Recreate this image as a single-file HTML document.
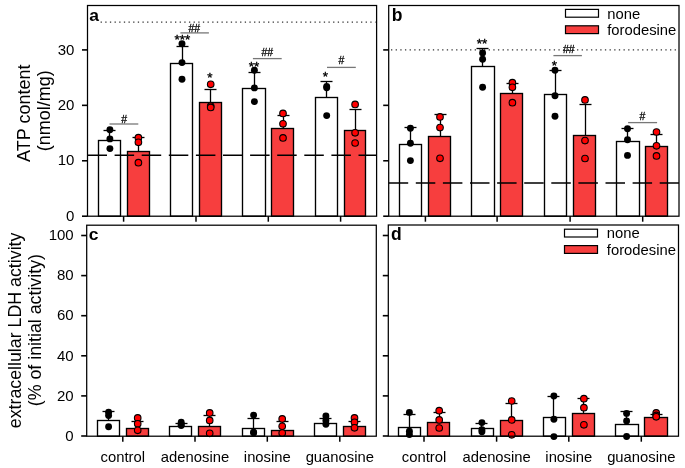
<!DOCTYPE html><html><head><meta charset="utf-8"><style>html,body{margin:0;padding:0;background:#fff;}svg{display:block;} svg{will-change:transform}</style></head><body>
<svg width="685" height="468" viewBox="0 0 685 468" font-family='"Liberation Sans", sans-serif'>
<rect width="685" height="468" fill="#fff"/>
<rect x="98.5" y="140.5" width="22.00" height="75.70" fill="#fff" stroke="#000" stroke-width="1.35"/>
<rect x="127.5" y="151.5" width="22.00" height="64.70" fill="#f73e3e" stroke="#000" stroke-width="1.35"/>
<rect x="170.5" y="63.5" width="22.00" height="152.70" fill="#fff" stroke="#000" stroke-width="1.35"/>
<rect x="199.5" y="102.5" width="22.00" height="113.70" fill="#f73e3e" stroke="#000" stroke-width="1.35"/>
<rect x="242.5" y="88.5" width="23.00" height="127.70" fill="#fff" stroke="#000" stroke-width="1.35"/>
<rect x="271.5" y="128.5" width="22.00" height="87.70" fill="#f73e3e" stroke="#000" stroke-width="1.35"/>
<rect x="315.5" y="97.5" width="22.00" height="118.70" fill="#fff" stroke="#000" stroke-width="1.35"/>
<rect x="344.5" y="130.5" width="21.00" height="85.70" fill="#f73e3e" stroke="#000" stroke-width="1.35"/>
<line x1="87.5" y1="155.3" x2="376.6" y2="155.3" stroke="#000" stroke-width="1.5" stroke-dasharray="19.5 7.6"/>
<line x1="100.6" y1="22.1" x2="375.6" y2="22.1" stroke="#333" stroke-width="1.3" stroke-dasharray="1.3 3.35"/>
<line x1="109.5" y1="140.5" x2="109.5" y2="130.5" stroke="#000" stroke-width="1.3"/>
<line x1="103.50" y1="130.5" x2="115.50" y2="130.5" stroke="#000" stroke-width="1.3"/>
<circle cx="109.9" cy="129.7" r="3.45" fill="#000"/>
<circle cx="109.9" cy="138.9" r="3.45" fill="#000"/>
<circle cx="109.9" cy="148.6" r="3.45" fill="#000"/>
<line x1="138.5" y1="151.5" x2="138.5" y2="137.5" stroke="#000" stroke-width="1.3"/>
<line x1="132.50" y1="137.5" x2="144.50" y2="137.5" stroke="#000" stroke-width="1.3"/>
<circle cx="138.4" cy="137.7" r="3.30" fill="#ff0000" stroke="#000" stroke-width="1.1"/>
<circle cx="138.4" cy="142.3" r="3.30" fill="#ff0000" stroke="#000" stroke-width="1.1"/>
<circle cx="138.4" cy="162.7" r="3.30" fill="#ff0000" stroke="#000" stroke-width="1.1"/>
<line x1="182.5" y1="63.5" x2="182.5" y2="46.5" stroke="#000" stroke-width="1.3"/>
<line x1="176.50" y1="46.5" x2="188.50" y2="46.5" stroke="#000" stroke-width="1.3"/>
<circle cx="182.0" cy="43.8" r="3.45" fill="#000"/>
<circle cx="182.0" cy="62.6" r="3.45" fill="#000"/>
<circle cx="182.0" cy="79.2" r="3.45" fill="#000"/>
<line x1="210.5" y1="102.5" x2="210.5" y2="89.5" stroke="#000" stroke-width="1.3"/>
<line x1="204.50" y1="89.5" x2="216.50" y2="89.5" stroke="#000" stroke-width="1.3"/>
<circle cx="210.7" cy="84.3" r="3.30" fill="#ff0000" stroke="#000" stroke-width="1.1"/>
<circle cx="210.7" cy="106.0" r="3.30" fill="#ff0000" stroke="#000" stroke-width="1.1"/>
<circle cx="210.7" cy="107.4" r="3.30" fill="#ff0000" stroke="#000" stroke-width="1.1"/>
<line x1="254.5" y1="88.5" x2="254.5" y2="72.5" stroke="#000" stroke-width="1.3"/>
<line x1="248.50" y1="72.5" x2="260.50" y2="72.5" stroke="#000" stroke-width="1.3"/>
<circle cx="254.4" cy="70.3" r="3.45" fill="#000"/>
<circle cx="254.4" cy="87.9" r="3.45" fill="#000"/>
<circle cx="254.4" cy="101.6" r="3.45" fill="#000"/>
<line x1="283.5" y1="128.5" x2="283.5" y2="115.5" stroke="#000" stroke-width="1.3"/>
<line x1="277.50" y1="115.5" x2="289.50" y2="115.5" stroke="#000" stroke-width="1.3"/>
<circle cx="283.0" cy="113.4" r="3.30" fill="#ff0000" stroke="#000" stroke-width="1.1"/>
<circle cx="283.0" cy="123.8" r="3.30" fill="#ff0000" stroke="#000" stroke-width="1.1"/>
<circle cx="283.0" cy="137.9" r="3.30" fill="#ff0000" stroke="#000" stroke-width="1.1"/>
<line x1="326.5" y1="97.5" x2="326.5" y2="81.5" stroke="#000" stroke-width="1.3"/>
<line x1="320.50" y1="81.5" x2="332.50" y2="81.5" stroke="#000" stroke-width="1.3"/>
<circle cx="326.7" cy="86.5" r="3.45" fill="#000"/>
<circle cx="326.7" cy="87.7" r="3.45" fill="#000"/>
<circle cx="326.7" cy="115.6" r="3.45" fill="#000"/>
<line x1="355.5" y1="130.5" x2="355.5" y2="109.5" stroke="#000" stroke-width="1.3"/>
<line x1="349.50" y1="109.5" x2="361.50" y2="109.5" stroke="#000" stroke-width="1.3"/>
<circle cx="355.1" cy="104.4" r="3.30" fill="#ff0000" stroke="#000" stroke-width="1.1"/>
<circle cx="355.1" cy="132.8" r="3.30" fill="#ff0000" stroke="#000" stroke-width="1.1"/>
<circle cx="355.1" cy="143.0" r="3.30" fill="#ff0000" stroke="#000" stroke-width="1.1"/>
<rect x="87.5" y="5.5" width="289.10" height="210.70" fill="none" stroke="#000" stroke-width="1.25"/>
<line x1="82.00" y1="216.20" x2="87.5" y2="216.20" stroke="#000" stroke-width="1.6"/>
<line x1="82.00" y1="160.77" x2="87.5" y2="160.77" stroke="#000" stroke-width="1.6"/>
<line x1="82.00" y1="105.34" x2="87.5" y2="105.34" stroke="#000" stroke-width="1.6"/>
<line x1="82.00" y1="49.91" x2="87.5" y2="49.91" stroke="#000" stroke-width="1.6"/>
<line x1="123.60" y1="216.2" x2="123.60" y2="221.70" stroke="#000" stroke-width="1.5"/>
<line x1="196.00" y1="216.2" x2="196.00" y2="221.70" stroke="#000" stroke-width="1.5"/>
<line x1="268.30" y1="216.2" x2="268.30" y2="221.70" stroke="#000" stroke-width="1.5"/>
<line x1="340.60" y1="216.2" x2="340.60" y2="221.70" stroke="#000" stroke-width="1.5"/>
<rect x="399.5" y="144.5" width="22.00" height="71.70" fill="#fff" stroke="#000" stroke-width="1.35"/>
<rect x="428.5" y="136.5" width="22.00" height="79.70" fill="#f73e3e" stroke="#000" stroke-width="1.35"/>
<rect x="471.5" y="66.5" width="23.00" height="149.70" fill="#fff" stroke="#000" stroke-width="1.35"/>
<rect x="500.5" y="93.5" width="22.00" height="122.70" fill="#f73e3e" stroke="#000" stroke-width="1.35"/>
<rect x="544.5" y="94.5" width="22.00" height="121.70" fill="#fff" stroke="#000" stroke-width="1.35"/>
<rect x="573.5" y="135.5" width="22.00" height="80.70" fill="#f73e3e" stroke="#000" stroke-width="1.35"/>
<rect x="616.5" y="141.5" width="23.00" height="74.70" fill="#fff" stroke="#000" stroke-width="1.35"/>
<rect x="645.5" y="146.5" width="22.00" height="69.70" fill="#f73e3e" stroke="#000" stroke-width="1.35"/>
<line x1="388.7" y1="183.0" x2="679.0" y2="183.0" stroke="#000" stroke-width="1.5" stroke-dasharray="19.5 7.6"/>
<line x1="391.0" y1="49.9" x2="678.0" y2="49.9" stroke="#333" stroke-width="1.3" stroke-dasharray="1.3 3.35"/>
<line x1="410.5" y1="144.5" x2="410.5" y2="127.5" stroke="#000" stroke-width="1.3"/>
<line x1="404.50" y1="127.5" x2="416.50" y2="127.5" stroke="#000" stroke-width="1.3"/>
<circle cx="410.4" cy="128.3" r="3.45" fill="#000"/>
<circle cx="410.4" cy="143.2" r="3.45" fill="#000"/>
<circle cx="410.4" cy="160.6" r="3.45" fill="#000"/>
<line x1="440.5" y1="136.5" x2="440.5" y2="114.5" stroke="#000" stroke-width="1.3"/>
<line x1="434.50" y1="114.5" x2="446.50" y2="114.5" stroke="#000" stroke-width="1.3"/>
<circle cx="440.0" cy="116.9" r="3.30" fill="#ff0000" stroke="#000" stroke-width="1.1"/>
<circle cx="440.0" cy="127.6" r="3.30" fill="#ff0000" stroke="#000" stroke-width="1.1"/>
<circle cx="440.0" cy="158.3" r="3.30" fill="#ff0000" stroke="#000" stroke-width="1.1"/>
<line x1="482.5" y1="66.5" x2="482.5" y2="48.5" stroke="#000" stroke-width="1.3"/>
<line x1="476.50" y1="48.5" x2="488.50" y2="48.5" stroke="#000" stroke-width="1.3"/>
<circle cx="482.6" cy="52.9" r="3.45" fill="#000"/>
<circle cx="482.6" cy="59.3" r="3.45" fill="#000"/>
<circle cx="482.6" cy="87.3" r="3.45" fill="#000"/>
<line x1="512.5" y1="93.5" x2="512.5" y2="83.5" stroke="#000" stroke-width="1.3"/>
<line x1="506.50" y1="83.5" x2="518.50" y2="83.5" stroke="#000" stroke-width="1.3"/>
<circle cx="512.4" cy="82.7" r="3.30" fill="#ff0000" stroke="#000" stroke-width="1.1"/>
<circle cx="512.4" cy="87.3" r="3.30" fill="#ff0000" stroke="#000" stroke-width="1.1"/>
<circle cx="512.4" cy="102.7" r="3.30" fill="#ff0000" stroke="#000" stroke-width="1.1"/>
<line x1="555.5" y1="94.5" x2="555.5" y2="70.5" stroke="#000" stroke-width="1.3"/>
<line x1="549.50" y1="70.5" x2="561.50" y2="70.5" stroke="#000" stroke-width="1.3"/>
<circle cx="555.0" cy="70.3" r="3.45" fill="#000"/>
<circle cx="555.0" cy="95.7" r="3.45" fill="#000"/>
<circle cx="555.0" cy="116.2" r="3.45" fill="#000"/>
<line x1="585.5" y1="135.5" x2="585.5" y2="104.5" stroke="#000" stroke-width="1.3"/>
<line x1="579.50" y1="104.5" x2="591.50" y2="104.5" stroke="#000" stroke-width="1.3"/>
<circle cx="585.0" cy="99.9" r="3.30" fill="#ff0000" stroke="#000" stroke-width="1.1"/>
<circle cx="585.0" cy="140.6" r="3.30" fill="#ff0000" stroke="#000" stroke-width="1.1"/>
<circle cx="585.0" cy="158.5" r="3.30" fill="#ff0000" stroke="#000" stroke-width="1.1"/>
<line x1="627.5" y1="141.5" x2="627.5" y2="128.5" stroke="#000" stroke-width="1.3"/>
<line x1="621.50" y1="128.5" x2="633.50" y2="128.5" stroke="#000" stroke-width="1.3"/>
<circle cx="627.5" cy="128.8" r="3.45" fill="#000"/>
<circle cx="627.5" cy="139.8" r="3.45" fill="#000"/>
<circle cx="627.5" cy="155.4" r="3.45" fill="#000"/>
<line x1="656.5" y1="146.5" x2="656.5" y2="134.5" stroke="#000" stroke-width="1.3"/>
<line x1="650.50" y1="134.5" x2="662.50" y2="134.5" stroke="#000" stroke-width="1.3"/>
<circle cx="656.5" cy="132.0" r="3.30" fill="#ff0000" stroke="#000" stroke-width="1.1"/>
<circle cx="656.5" cy="145.8" r="3.30" fill="#ff0000" stroke="#000" stroke-width="1.1"/>
<circle cx="656.5" cy="155.9" r="3.30" fill="#ff0000" stroke="#000" stroke-width="1.1"/>
<rect x="388.7" y="5.5" width="290.30" height="210.70" fill="none" stroke="#000" stroke-width="1.25"/>
<line x1="383.20" y1="216.20" x2="388.7" y2="216.20" stroke="#000" stroke-width="1.6"/>
<line x1="383.20" y1="160.77" x2="388.7" y2="160.77" stroke="#000" stroke-width="1.6"/>
<line x1="383.20" y1="105.34" x2="388.7" y2="105.34" stroke="#000" stroke-width="1.6"/>
<line x1="383.20" y1="49.91" x2="388.7" y2="49.91" stroke="#000" stroke-width="1.6"/>
<line x1="425.40" y1="216.2" x2="425.40" y2="221.70" stroke="#000" stroke-width="1.5"/>
<line x1="497.10" y1="216.2" x2="497.10" y2="221.70" stroke="#000" stroke-width="1.5"/>
<line x1="570.10" y1="216.2" x2="570.10" y2="221.70" stroke="#000" stroke-width="1.5"/>
<line x1="642.70" y1="216.2" x2="642.70" y2="221.70" stroke="#000" stroke-width="1.5"/>
<rect x="97.5" y="420.5" width="22.00" height="15.70" fill="#fff" stroke="#000" stroke-width="1.35"/>
<rect x="126.5" y="428.5" width="22.00" height="7.70" fill="#f73e3e" stroke="#000" stroke-width="1.35"/>
<rect x="169.5" y="426.5" width="22.00" height="9.70" fill="#fff" stroke="#000" stroke-width="1.35"/>
<rect x="198.5" y="426.5" width="22.00" height="9.70" fill="#f73e3e" stroke="#000" stroke-width="1.35"/>
<rect x="242.5" y="428.5" width="22.00" height="7.70" fill="#fff" stroke="#000" stroke-width="1.35"/>
<rect x="271.5" y="430.5" width="22.00" height="5.70" fill="#f73e3e" stroke="#000" stroke-width="1.35"/>
<rect x="314.5" y="423.5" width="22.00" height="12.70" fill="#fff" stroke="#000" stroke-width="1.35"/>
<rect x="343.5" y="426.5" width="22.00" height="9.70" fill="#f73e3e" stroke="#000" stroke-width="1.35"/>
<line x1="108.5" y1="420.5" x2="108.5" y2="411.5" stroke="#000" stroke-width="1.3"/>
<line x1="102.50" y1="411.5" x2="114.50" y2="411.5" stroke="#000" stroke-width="1.3"/>
<circle cx="108.6" cy="412.2" r="3.45" fill="#000"/>
<circle cx="108.6" cy="415.5" r="3.45" fill="#000"/>
<circle cx="108.6" cy="426.8" r="3.45" fill="#000"/>
<line x1="137.5" y1="428.5" x2="137.5" y2="421.5" stroke="#000" stroke-width="1.3"/>
<line x1="131.50" y1="421.5" x2="143.50" y2="421.5" stroke="#000" stroke-width="1.3"/>
<circle cx="137.7" cy="417.9" r="3.30" fill="#ff0000" stroke="#000" stroke-width="1.1"/>
<circle cx="137.7" cy="423.8" r="3.30" fill="#ff0000" stroke="#000" stroke-width="1.1"/>
<circle cx="137.7" cy="430.3" r="3.30" fill="#ff0000" stroke="#000" stroke-width="1.1"/>
<line x1="181.5" y1="426.5" x2="181.5" y2="423.5" stroke="#000" stroke-width="1.3"/>
<line x1="175.50" y1="423.5" x2="187.50" y2="423.5" stroke="#000" stroke-width="1.3"/>
<circle cx="181.2" cy="422.2" r="3.45" fill="#000"/>
<circle cx="181.2" cy="424.5" r="3.45" fill="#000"/>
<circle cx="181.2" cy="425.6" r="3.45" fill="#000"/>
<line x1="209.5" y1="426.5" x2="209.5" y2="415.5" stroke="#000" stroke-width="1.3"/>
<line x1="203.50" y1="415.5" x2="215.50" y2="415.5" stroke="#000" stroke-width="1.3"/>
<circle cx="209.7" cy="412.9" r="3.30" fill="#ff0000" stroke="#000" stroke-width="1.1"/>
<circle cx="209.7" cy="420.4" r="3.30" fill="#ff0000" stroke="#000" stroke-width="1.1"/>
<circle cx="209.7" cy="433.3" r="3.30" fill="#ff0000" stroke="#000" stroke-width="1.1"/>
<line x1="253.5" y1="428.5" x2="253.5" y2="418.5" stroke="#000" stroke-width="1.3"/>
<line x1="247.50" y1="418.5" x2="259.50" y2="418.5" stroke="#000" stroke-width="1.3"/>
<circle cx="253.6" cy="415.1" r="3.45" fill="#000"/>
<circle cx="253.6" cy="432.3" r="3.45" fill="#000"/>
<circle cx="253.6" cy="432.8" r="3.45" fill="#000"/>
<line x1="282.5" y1="430.5" x2="282.5" y2="421.5" stroke="#000" stroke-width="1.3"/>
<line x1="276.50" y1="421.5" x2="288.50" y2="421.5" stroke="#000" stroke-width="1.3"/>
<circle cx="282.2" cy="418.9" r="3.30" fill="#ff0000" stroke="#000" stroke-width="1.1"/>
<circle cx="282.2" cy="426.3" r="3.30" fill="#ff0000" stroke="#000" stroke-width="1.1"/>
<circle cx="282.2" cy="433.0" r="3.30" fill="#ff0000" stroke="#000" stroke-width="1.1"/>
<line x1="325.5" y1="423.5" x2="325.5" y2="418.5" stroke="#000" stroke-width="1.3"/>
<line x1="319.50" y1="418.5" x2="331.50" y2="418.5" stroke="#000" stroke-width="1.3"/>
<circle cx="325.9" cy="415.9" r="3.45" fill="#000"/>
<circle cx="325.9" cy="420.4" r="3.45" fill="#000"/>
<circle cx="325.9" cy="424.3" r="3.45" fill="#000"/>
<line x1="354.5" y1="426.5" x2="354.5" y2="421.5" stroke="#000" stroke-width="1.3"/>
<line x1="348.50" y1="421.5" x2="360.50" y2="421.5" stroke="#000" stroke-width="1.3"/>
<circle cx="354.5" cy="417.9" r="3.30" fill="#ff0000" stroke="#000" stroke-width="1.1"/>
<circle cx="354.5" cy="422.3" r="3.30" fill="#ff0000" stroke="#000" stroke-width="1.1"/>
<circle cx="354.5" cy="427.8" r="3.30" fill="#ff0000" stroke="#000" stroke-width="1.1"/>
<rect x="86.7" y="225.2" width="289.60" height="211.00" fill="none" stroke="#000" stroke-width="1.25"/>
<line x1="81.20" y1="436.00" x2="86.7" y2="436.00" stroke="#000" stroke-width="1.6"/>
<line x1="81.20" y1="395.90" x2="86.7" y2="395.90" stroke="#000" stroke-width="1.6"/>
<line x1="81.20" y1="355.80" x2="86.7" y2="355.80" stroke="#000" stroke-width="1.6"/>
<line x1="81.20" y1="315.70" x2="86.7" y2="315.70" stroke="#000" stroke-width="1.6"/>
<line x1="81.20" y1="275.60" x2="86.7" y2="275.60" stroke="#000" stroke-width="1.6"/>
<line x1="81.20" y1="235.50" x2="86.7" y2="235.50" stroke="#000" stroke-width="1.6"/>
<line x1="122.80" y1="436.2" x2="122.80" y2="441.70" stroke="#000" stroke-width="1.5"/>
<line x1="195.00" y1="436.2" x2="195.00" y2="441.70" stroke="#000" stroke-width="1.5"/>
<line x1="267.30" y1="436.2" x2="267.30" y2="441.70" stroke="#000" stroke-width="1.5"/>
<line x1="339.80" y1="436.2" x2="339.80" y2="441.70" stroke="#000" stroke-width="1.5"/>
<rect x="398.5" y="427.5" width="22.00" height="8.70" fill="#fff" stroke="#000" stroke-width="1.35"/>
<rect x="427.5" y="422.5" width="22.00" height="13.70" fill="#f73e3e" stroke="#000" stroke-width="1.35"/>
<rect x="471.5" y="428.5" width="22.00" height="7.70" fill="#fff" stroke="#000" stroke-width="1.35"/>
<rect x="500.5" y="420.5" width="22.00" height="15.70" fill="#f73e3e" stroke="#000" stroke-width="1.35"/>
<rect x="543.5" y="417.5" width="22.00" height="18.70" fill="#fff" stroke="#000" stroke-width="1.35"/>
<rect x="572.5" y="413.5" width="22.00" height="22.70" fill="#f73e3e" stroke="#000" stroke-width="1.35"/>
<rect x="615.5" y="424.5" width="23.00" height="11.70" fill="#fff" stroke="#000" stroke-width="1.35"/>
<rect x="644.5" y="417.5" width="23.00" height="18.70" fill="#f73e3e" stroke="#000" stroke-width="1.35"/>
<line x1="409.5" y1="427.5" x2="409.5" y2="414.5" stroke="#000" stroke-width="1.3"/>
<line x1="403.50" y1="414.5" x2="415.50" y2="414.5" stroke="#000" stroke-width="1.3"/>
<circle cx="409.4" cy="412.4" r="3.45" fill="#000"/>
<circle cx="409.4" cy="431.3" r="3.45" fill="#000"/>
<circle cx="409.4" cy="434.5" r="3.45" fill="#000"/>
<line x1="439.5" y1="422.5" x2="439.5" y2="412.5" stroke="#000" stroke-width="1.3"/>
<line x1="433.50" y1="412.5" x2="445.50" y2="412.5" stroke="#000" stroke-width="1.3"/>
<circle cx="439.2" cy="410.7" r="3.30" fill="#ff0000" stroke="#000" stroke-width="1.1"/>
<circle cx="439.2" cy="419.9" r="3.30" fill="#ff0000" stroke="#000" stroke-width="1.1"/>
<circle cx="439.2" cy="428.0" r="3.30" fill="#ff0000" stroke="#000" stroke-width="1.1"/>
<line x1="481.5" y1="428.5" x2="481.5" y2="423.5" stroke="#000" stroke-width="1.3"/>
<line x1="475.50" y1="423.5" x2="487.50" y2="423.5" stroke="#000" stroke-width="1.3"/>
<circle cx="481.9" cy="422.6" r="3.45" fill="#000"/>
<circle cx="481.9" cy="429.8" r="3.45" fill="#000"/>
<circle cx="481.9" cy="431.8" r="3.45" fill="#000"/>
<line x1="511.5" y1="420.5" x2="511.5" y2="403.5" stroke="#000" stroke-width="1.3"/>
<line x1="505.50" y1="403.5" x2="517.50" y2="403.5" stroke="#000" stroke-width="1.3"/>
<circle cx="511.7" cy="401.0" r="3.30" fill="#ff0000" stroke="#000" stroke-width="1.1"/>
<circle cx="511.7" cy="419.9" r="3.30" fill="#ff0000" stroke="#000" stroke-width="1.1"/>
<circle cx="511.7" cy="434.8" r="3.30" fill="#ff0000" stroke="#000" stroke-width="1.1"/>
<line x1="553.5" y1="417.5" x2="553.5" y2="396.5" stroke="#000" stroke-width="1.3"/>
<line x1="547.50" y1="396.5" x2="559.50" y2="396.5" stroke="#000" stroke-width="1.3"/>
<circle cx="553.9" cy="396.0" r="3.45" fill="#000"/>
<circle cx="553.9" cy="419.3" r="3.45" fill="#000"/>
<circle cx="553.9" cy="436.6" r="3.45" fill="#000"/>
<line x1="583.5" y1="413.5" x2="583.5" y2="398.5" stroke="#000" stroke-width="1.3"/>
<line x1="577.50" y1="398.5" x2="589.50" y2="398.5" stroke="#000" stroke-width="1.3"/>
<circle cx="583.9" cy="398.7" r="3.30" fill="#ff0000" stroke="#000" stroke-width="1.1"/>
<circle cx="583.9" cy="407.7" r="3.30" fill="#ff0000" stroke="#000" stroke-width="1.1"/>
<circle cx="583.9" cy="424.8" r="3.30" fill="#ff0000" stroke="#000" stroke-width="1.1"/>
<line x1="626.5" y1="424.5" x2="626.5" y2="411.5" stroke="#000" stroke-width="1.3"/>
<line x1="620.50" y1="411.5" x2="632.50" y2="411.5" stroke="#000" stroke-width="1.3"/>
<circle cx="626.6" cy="413.4" r="3.45" fill="#000"/>
<circle cx="626.6" cy="420.9" r="3.45" fill="#000"/>
<circle cx="626.6" cy="436.5" r="3.45" fill="#000"/>
<line x1="656.5" y1="417.5" x2="656.5" y2="414.5" stroke="#000" stroke-width="1.3"/>
<line x1="650.50" y1="414.5" x2="662.50" y2="414.5" stroke="#000" stroke-width="1.3"/>
<circle cx="656.2" cy="412.9" r="3.30" fill="#ff0000" stroke="#000" stroke-width="1.1"/>
<circle cx="656.2" cy="415.4" r="3.30" fill="#ff0000" stroke="#000" stroke-width="1.1"/>
<circle cx="656.2" cy="416.8" r="3.30" fill="#ff0000" stroke="#000" stroke-width="1.1"/>
<rect x="388.3" y="225.0" width="290.20" height="211.20" fill="none" stroke="#000" stroke-width="1.25"/>
<line x1="382.80" y1="436.00" x2="388.3" y2="436.00" stroke="#000" stroke-width="1.6"/>
<line x1="382.80" y1="395.90" x2="388.3" y2="395.90" stroke="#000" stroke-width="1.6"/>
<line x1="382.80" y1="355.80" x2="388.3" y2="355.80" stroke="#000" stroke-width="1.6"/>
<line x1="382.80" y1="315.70" x2="388.3" y2="315.70" stroke="#000" stroke-width="1.6"/>
<line x1="382.80" y1="275.60" x2="388.3" y2="275.60" stroke="#000" stroke-width="1.6"/>
<line x1="382.80" y1="235.50" x2="388.3" y2="235.50" stroke="#000" stroke-width="1.6"/>
<line x1="424.00" y1="436.2" x2="424.00" y2="441.70" stroke="#000" stroke-width="1.5"/>
<line x1="496.60" y1="436.2" x2="496.60" y2="441.70" stroke="#000" stroke-width="1.5"/>
<line x1="568.80" y1="436.2" x2="568.80" y2="441.70" stroke="#000" stroke-width="1.5"/>
<line x1="641.30" y1="436.2" x2="641.30" y2="441.70" stroke="#000" stroke-width="1.5"/>
<line x1="109.5" y1="124.0" x2="138.3" y2="124.0" stroke="#777" stroke-width="1.3"/>
<text transform="translate(124.1,122.60) scale(1.05 1)" font-size="10" text-anchor="middle" stroke="#000" stroke-width="0.25">#</text>
<text x="182.3" y="43.9" font-size="13.5" text-anchor="middle" font-weight="normal" fill="#000" stroke="#000" stroke-width="0.35">***</text>
<line x1="180.4" y1="32.9" x2="208.9" y2="32.9" stroke="#777" stroke-width="1.3"/>
<text transform="translate(194.25,31.60) scale(1.05 1)" font-size="10" text-anchor="middle" stroke="#000" stroke-width="0.25">##</text>
<text x="209.8" y="82.0" font-size="13.5" text-anchor="middle" font-weight="normal" fill="#000" stroke="#000" stroke-width="0.35">*</text>
<text x="254.0" y="70.8" font-size="13.5" text-anchor="middle" font-weight="normal" fill="#000" stroke="#000" stroke-width="0.35">**</text>
<line x1="252.9" y1="58.6" x2="281.7" y2="58.6" stroke="#777" stroke-width="1.3"/>
<text transform="translate(267.25,55.80) scale(1.05 1)" font-size="10" text-anchor="middle" stroke="#000" stroke-width="0.25">##</text>
<text x="325.4" y="80.9" font-size="13.5" text-anchor="middle" font-weight="normal" fill="#000" stroke="#000" stroke-width="0.35">*</text>
<line x1="327.0" y1="67.4" x2="355.8" y2="67.4" stroke="#777" stroke-width="1.3"/>
<text transform="translate(341.5,64.30) scale(1.05 1)" font-size="10" text-anchor="middle" stroke="#000" stroke-width="0.25">#</text>
<text x="481.9" y="47.9" font-size="13.5" text-anchor="middle" font-weight="normal" fill="#000" stroke="#000" stroke-width="0.35">**</text>
<text x="554.4" y="70.3" font-size="13.5" text-anchor="middle" font-weight="normal" fill="#000" stroke="#000" stroke-width="0.35">*</text>
<line x1="553.4" y1="55.6" x2="581.9" y2="55.6" stroke="#777" stroke-width="1.3"/>
<text transform="translate(568.75,53.00) scale(1.05 1)" font-size="10" text-anchor="middle" stroke="#000" stroke-width="0.25">##</text>
<line x1="628.1" y1="122.6" x2="657.1" y2="122.6" stroke="#777" stroke-width="1.3"/>
<text transform="translate(642.5,119.80) scale(1.05 1)" font-size="10" text-anchor="middle" stroke="#000" stroke-width="0.25">#</text>
<text x="74.4" y="220.89999999999998" font-size="15" text-anchor="end" font-weight="normal" fill="#000" >0</text>
<text x="74.4" y="165.46999999999997" font-size="15" text-anchor="end" font-weight="normal" fill="#000" >10</text>
<text x="74.4" y="110.03999999999999" font-size="15" text-anchor="end" font-weight="normal" fill="#000" >20</text>
<text x="74.4" y="54.61" font-size="15" text-anchor="end" font-weight="normal" fill="#000" >30</text>
<text x="73.7" y="440.7" font-size="15" text-anchor="end" font-weight="normal" fill="#000" >0</text>
<text x="73.7" y="400.59999999999997" font-size="15" text-anchor="end" font-weight="normal" fill="#000" >20</text>
<text x="73.7" y="360.5" font-size="15" text-anchor="end" font-weight="normal" fill="#000" >40</text>
<text x="73.7" y="320.4" font-size="15" text-anchor="end" font-weight="normal" fill="#000" >60</text>
<text x="73.7" y="280.3" font-size="15" text-anchor="end" font-weight="normal" fill="#000" >80</text>
<text x="73.7" y="240.2" font-size="15" text-anchor="end" font-weight="normal" fill="#000" >100</text>
<text x="122.8" y="462.0" font-size="14.8" text-anchor="middle" font-weight="normal" fill="#000" >control</text>
<text x="195.0" y="462.0" font-size="14.8" text-anchor="middle" font-weight="normal" fill="#000" >adenosine</text>
<text x="267.3" y="462.0" font-size="14.8" text-anchor="middle" font-weight="normal" fill="#000" >inosine</text>
<text x="339.8" y="462.0" font-size="14.8" text-anchor="middle" font-weight="normal" fill="#000" >guanosine</text>
<text x="424.0" y="462.0" font-size="14.8" text-anchor="middle" font-weight="normal" fill="#000" >control</text>
<text x="496.6" y="462.0" font-size="14.8" text-anchor="middle" font-weight="normal" fill="#000" >adenosine</text>
<text x="568.8" y="462.0" font-size="14.8" text-anchor="middle" font-weight="normal" fill="#000" >inosine</text>
<text x="641.3" y="462.0" font-size="14.8" text-anchor="middle" font-weight="normal" fill="#000" >guanosine</text>
<text x="89.3" y="20.8" font-size="17.5" text-anchor="start" font-weight="bold" fill="#000" transform="translate(0 2.1) scale(1 0.9)">a</text>
<text x="391.8" y="21.0" font-size="17.5" text-anchor="start" font-weight="bold" fill="#000" >b</text>
<text x="88.7" y="239.8" font-size="17.5" text-anchor="start" font-weight="bold" fill="#000" transform="translate(0 24.0) scale(1 0.9)">c</text>
<text x="391.0" y="240.0" font-size="17.5" text-anchor="start" font-weight="bold" fill="#000" >d</text>
<rect x="565.5" y="9.4" width="33" height="7.8" fill="#fff" stroke="#000" stroke-width="1.2"/>
<rect x="565.5" y="25.8" width="33" height="7.8" fill="#f73e3e" stroke="#000" stroke-width="1.2"/>
<text x="607.2" y="18.6" font-size="14.8" text-anchor="start" font-weight="normal" fill="#000" >none</text>
<text x="607.2" y="35.0" font-size="14.8" text-anchor="start" font-weight="normal" fill="#000" >forodesine</text>
<rect x="564.5" y="229.2" width="33" height="7.8" fill="#fff" stroke="#000" stroke-width="1.2"/>
<rect x="564.5" y="245.6" width="33" height="7.8" fill="#f73e3e" stroke="#000" stroke-width="1.2"/>
<text x="606.8" y="238.39999999999998" font-size="14.8" text-anchor="start" font-weight="normal" fill="#000" >none</text>
<text x="606.8" y="254.79999999999998" font-size="14.8" text-anchor="start" font-weight="normal" fill="#000" >forodesine</text>
<text transform="translate(30.3,113.25) rotate(-90)" font-size="18" text-anchor="middle">ATP content</text>
<text transform="translate(50.2,110.65) rotate(-90)" font-size="18" text-anchor="middle">(nmol/mg)</text>
<text transform="translate(20.9,330.4) rotate(-90)" font-size="17.8" text-anchor="middle">extracellular LDH activity</text>
<text transform="translate(40.9,330.15) rotate(-90)" font-size="17.8" text-anchor="middle">(% of initial activity)</text>
</svg></body></html>
